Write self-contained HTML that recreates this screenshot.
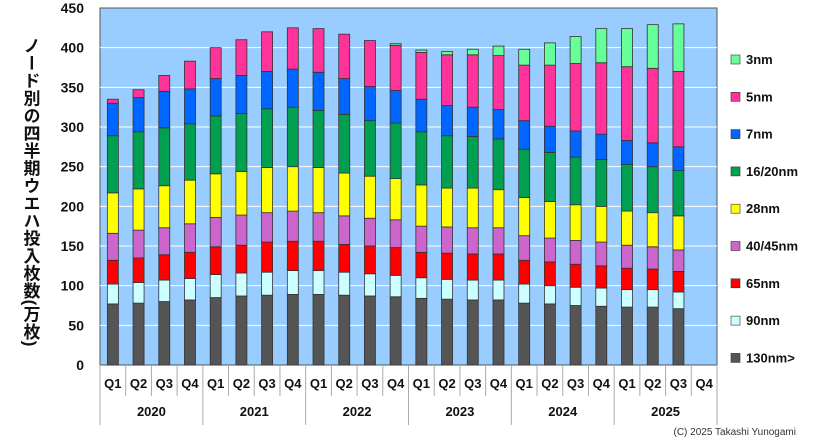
<!DOCTYPE html>
<html><head><meta charset="utf-8"><style>
body{margin:0;background:#fff;}
svg text{font-family:"Liberation Sans","Noto Sans CJK JP",sans-serif;}
</style></head><body>
<svg id="c" width="831" height="441" xmlns="http://www.w3.org/2000/svg">
<rect x="100" y="8" width="617" height="357" fill="#99ccff" stroke="#555" stroke-width="1"/>
<g id="grid"></g><g id="bars"></g><g id="axes"></g><g id="legend"></g>
<text x="30" y="192" font-size="17" font-weight="bold" fill="#111" text-anchor="middle" writing-mode="tb" style="writing-mode:vertical-rl;letter-spacing:0.5px">ノード別の四半期ウエハ投入枚数(万枚)</text>
<text x="796" y="435" font-size="10" fill="#333" text-anchor="end">(C) 2025 Takashi Yunogami</text>
</svg>
<script>
const quarters=["Q1","Q2","Q3","Q4"];
const years=["2020","2021","2022","2023","2024","2025"];
const yTicks=[0,50,100,150,200,250,300,350,400,450];
const seriesNames=["130nm>","90nm","65nm","40/45nm","28nm","16/20nm","7nm","5nm","3nm"];
const seriesColors=["#555555","#ccffff","#ff0000","#cc66cc","#ffff00","#00a050","#0066ff","#ff3399","#66ff99"];
const s130=[77,78,80,82,85,87,88,89,89,88,87,86,84,83,82,82,78,77,75,74,73,73,71];
const s90=[25,26,27,27,29,29,29,30,30,29,28,27,26,25,25,25,24,23,23,23,22,22,21];
const s65=[30,31,32,33,35,35,38,37,37,35,35,35,32,33,33,33,30,30,29,28,27,26,26];
const s40=[34,35,34,36,37,38,37,38,36,36,35,35,33,33,33,33,31,30,30,30,29,28,27];
const s28=[51,52,53,55,55,55,57,56,57,54,53,52,52,49,50,48,48,46,45,45,43,43,43];
const s16=[72,72,73,71,73,73,74,75,72,74,70,70,67,66,65,64,61,62,60,59,59,58,57];
const s7=[41,43,46,44,47,48,47,48,48,45,43,41,41,38,37,37,36,33,33,32,30,30,30];
const s5=[5,10,20,35,39,45,50,52,55,56,58,57,59,64,66,68,70,77,85,90,93,94,95];
const s3=[0,0,0,0,0,0,0,0,0,0,0,2,3,4,7,12,20,28,34,43,48,55,60];
const series=[s130,s90,s65,s40,s28,s16,s7,s5,s3];
const NS="http://www.w3.org/2000/svg";
const L=100,R=717,T=8,B=365,yMax=450,nSlots=24;
const slot=(R-L)/nSlots;
const y=v=>B-(v/yMax)*(B-T);
const xc=i=>L+slot*(i+0.5);
function mk(tag,attrs,parent){const e=document.createElementNS(NS,tag);for(const k in attrs)e.setAttribute(k,attrs[k]);parent.appendChild(e);return e;}
const grid=document.getElementById('grid'),bars=document.getElementById('bars'),axes=document.getElementById('axes'),legend=document.getElementById('legend');
yTicks.forEach(t=>{
 if(t>0&&t<yMax){const g=mk('line',{x1:L,x2:R,y1:y(t),y2:y(t),stroke:'#fff','stroke-width':1},grid);
 
 }
 const tx=mk('text',{x:84,y:y(t)+5,'font-size':14,'font-weight':'bold','text-anchor':'end',fill:'#111'},axes);
 tx.textContent=t;
 
 
});
for(let i=0;i<s130.length;i++){
 let cum=0;
 series.forEach((s,k)=>{
  const v=s[i];if(v<=0)return;
  const r=mk('rect',{x:xc(i)-5.5,y:y(cum+v),width:11,height:y(cum)-y(cum+v),fill:seriesColors[k],stroke:'#333','stroke-width':0.8},bars);
  
  
  cum+=v;
 });
}
for(let i=0;i<nSlots;i++){
 const q=mk('text',{x:xc(i),y:388,'font-size':13,'font-weight':'bold','text-anchor':'middle',fill:'#111'},axes);
 q.textContent=quarters[i%4];
 
 
 const lx=L+slot*i;
 const ln=mk('line',{x1:lx,x2:lx,y1:365,y2:(i%4===0)?425:396,stroke:'#aaa','stroke-width':1},axes);
 
 
}
mk('line',{x1:R,x2:R,y1:365,y2:425,stroke:'#aaa','stroke-width':1},axes);
years.forEach((yr,j)=>{
 const t=mk('text',{x:L+slot*(4*j+2),y:416,'font-size':13,'font-weight':'bold','text-anchor':'middle',fill:'#111'},axes);
 t.textContent=yr;
 
 
});
const legOrder=[8,7,6,5,4,3,2,1,0];
legOrder.forEach((k,j)=>{
 const ly=60+j*37.3;
 const m=mk('rect',{x:731,y:ly-5,width:9,height:9,fill:seriesColors[k],stroke:'#333','stroke-width':0.6},legend);
 
 
 const t=mk('text',{x:746,y:ly+4,'font-size':13,'font-weight':'bold',fill:'#111'},legend);
 t.textContent=seriesNames[k];
 
 
});
</script>
</body></html>
